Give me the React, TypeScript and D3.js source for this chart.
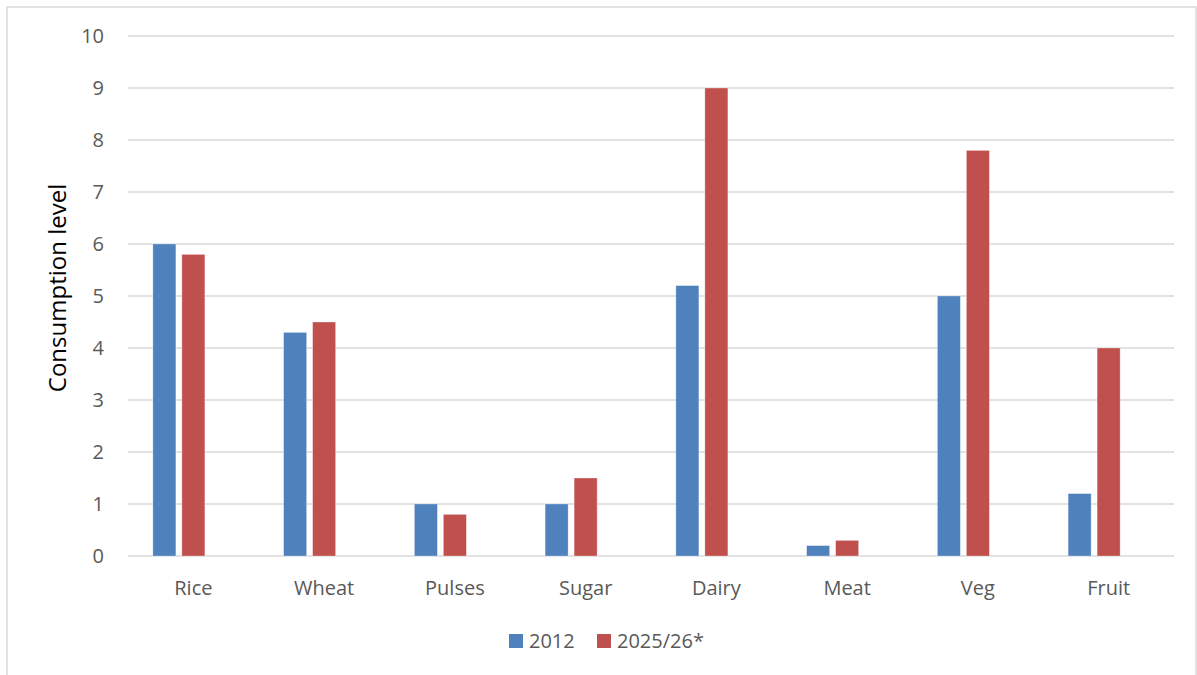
import React from "react";
import * as d3 from "d3";

const categories = ["Rice", "Wheat", "Pulses", "Sugar", "Dairy", "Meat", "Veg", "Fruit"];
const series2012 = [6, 4.3, 1, 1, 5.2, 0.2, 5, 1.2];
const series2025 = [5.8, 4.5, 0.8, 1.5, 9, 0.3, 7.8, 4];
const seriesNames = ["2012", "2025/26*"];
const seriesColors = ["#4F81BD", "#C0504D"];
const yTicks = [0, 1, 2, 3, 4, 5, 6, 7, 8, 9, 10];

const W = 1197;
const H = 675;
const left = 128;
const right = 1174;
const top = 36;
const bottom = 556;
const FONT = "'Open Sans', 'Noto Sans', sans-serif";

export default function App() {
  const x = d3.scaleBand<string>().domain(categories).range([left, right]).paddingInner(0).paddingOuter(0);
  const y = d3.scaleLinear().domain([0, 10]).range([bottom, top]);
  // Excel clustered layout with 3 slots (third empty), bar width 23, gap 6
  const bw = x.bandwidth();
  const barW = 23;
  const gap = 6;
  const groupW = 3 * barW + 2 * gap;
  const slot = (i: number) => (bw - groupW) / 2 + i * (barW + gap);
  const data = [series2012, series2025];

  return (
    <svg
      width={W}
      height={H}
      style={{ position: "absolute", left: 0, top: 0, background: "#fff" }}
      fontFamily={FONT}
    >
      <rect x={0} y={0} width={W} height={H} fill="#fff" />
      <rect x={7} y={7} width={1189} height={680} fill="none" stroke="#d9d9d9" strokeWidth={1.5} />
      {yTicks.map((t) => (
        <g key={t}>
          <line x1={left} x2={right} y1={y(t)} y2={y(t)} stroke="#d9d9d9" strokeWidth={1.5} />
          <text x={104} y={y(t)} dy="0.35em" textAnchor="end" fontSize={20} fill="#595959">
            {t}
          </text>
        </g>
      ))}
      {data.map((vals, si) =>
        categories.map((c, ci) => (
          <rect
            key={si + "-" + c}
            x={(x(c) as number) + slot(si)}
            y={y(vals[ci])}
            width={barW}
            height={y(0) - y(vals[ci])}
            fill={seriesColors[si]}
            stroke="#ffffff"
            strokeOpacity={0.4}
            strokeWidth={0.75}
          />
        ))
      )}
      {categories.map((c) => (
        <text
          key={c}
          x={(x(c) as number) + bw / 2}
          y={595}
          textAnchor="middle"
          fontSize={20}
          fill="#595959"
        >
          {c}
        </text>
      ))}
      <text
        transform={`translate(66,${288}) rotate(-90)`}
        textAnchor="middle"
        fontSize={24}
        fill="#000"
      >
        Consumption level
      </text>
      <g>
        <rect x={509} y={634} width={14} height={14} fill={seriesColors[0]} />
        <text x={529} y={648} fontSize={20} fill="#595959">{seriesNames[0]}</text>
        <rect x={597} y={634} width={14} height={14} fill={seriesColors[1]} />
        <text x={617} y={648} fontSize={20} fill="#595959">{seriesNames[1]}</text>
      </g>
    </svg>
  );
}
